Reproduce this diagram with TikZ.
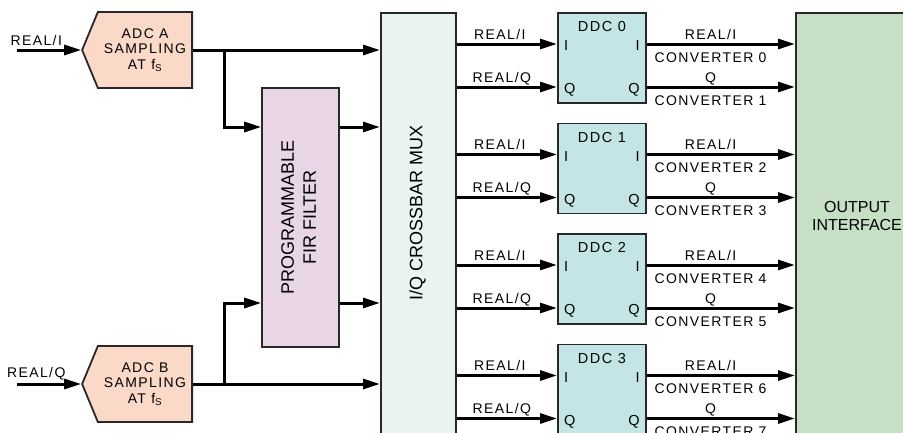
\documentclass[tikz,border=0pt]{standalone}
\usepackage{fontspec}
\setmainfont{Liberation Sans}
\newfontfamily\trackfont[LetterSpace=10]{Liberation Sans}
\usepackage{xcolor}
\usepackage{tikz}
\usetikzlibrary{shapes,shapes.symbols,arrows,arrows.meta,positioning,calc}
\definecolor{boxline}{RGB}{40,40,40}
\definecolor{adcfill}{RGB}{250,217,200}
\definecolor{firfill}{RGB}{232,214,230}
\definecolor{muxfill}{RGB}{233,244,242}
\definecolor{ddcfill}{RGB}{196,229,229}
\definecolor{outfill}{RGB}{198,223,197}
\tikzset{
  block/.style={
    rectangle,
    draw=boxline,
    line width=1.8pt,
    inner sep=0pt,
    align=center
  },
  arrow/.style={
    -{Triangle[length=17pt,width=10pt]},
    line width=3pt
  }
}

\begin{document}
\begin{tikzpicture}[
  x=1pt, y=-1pt,
  adc_block/.style={signal, signal to=west, signal from=nowhere, signal pointer angle=135, draw=boxline, line width=1.8pt, fill=adcfill, minimum width=110pt, minimum height=76pt, inner sep=0pt, align=center, font=\trackfont\fontsize{14}{15.5}\selectfont},
  fir_block/.style={block, fill=firfill, minimum width=77pt, minimum height=259pt, font=\fontsize{18}{22}\selectfont},
  mux_block/.style={block, fill=muxfill, minimum width=75pt, minimum height=470pt},
  ddc_block/.style={block, fill=ddcfill, minimum width=88pt, minimum height=90pt},
  out_block/.style={block, fill=outfill, minimum width=140pt, minimum height=470pt},
  big_text/.style={font=\fontsize{18}{22}\selectfont, align=center},
  out_text/.style={font=\fontsize{16}{18}\selectfont, align=center},
  sig/.style={font=\trackfont\fontsize{14}{14}\selectfont, inner sep=3.5pt, text height=10pt, text depth=0pt},
  pin_text/.style={font=\fontsize{14.5}{14.5}\selectfont, inner sep=7pt}
]
\useasboundingbox (0,0) rectangle (903,432);
\clip (0,0) rectangle (903,432);

% ADC stage
\node[adc_block] (adcA) at (145,50) {ADC A\\SAMPLING\\AT f\textsubscript{S}};
\node[adc_block] (adcB) at (145,384) {ADC B\\SAMPLING\\AT f\textsubscript{S}};
\coordinate (inA) at (17,50);
\coordinate (inB) at (17,384);

% FIR filter and crossbar
\node[fir_block] (fir) at (300.5,217.5) {\rotatebox{90}{\begin{tabular}{@{}c@{}}PROGRAMMABLE\\FIR FILTER\end{tabular}}};
\node[mux_block, anchor=north west] (mux) at (380,12) {};
\node[big_text, rotate=90] (muxlabel) at (417.5,213) {I/Q CROSSBAR MUX};

% Output interface
\node[out_block, anchor=north west] (out) at (795,12) {};
\node[out_text] (outlabel) at (857,216) {OUTPUT\\INTERFACE};

% Branch points
\coordinate (jA) at (224,50);
\coordinate (jB) at (224,384);
\coordinate (rowA) at (0,127);
\coordinate (rowB) at (0,303);

% Inputs to ADCs
\draw[arrow] (inA) -- node[sig, above, pos=0.3] {REAL/I} (adcA.west);
\draw[arrow] (inB) -- node[sig, above, pos=0.3, yshift=2pt] {REAL/Q} (adcB.west);

% ADCs to crossbar and FIR
\draw[arrow] (adcA.east) -- (adcA.east -| mux.west);
\draw[arrow] (adcB.east) -- (adcB.east -| mux.west);
\draw[arrow] (jA) |- (fir.west |- rowA);
\draw[arrow] (jB) |- (fir.west |- rowB);

% FIR to crossbar
\draw[arrow] (fir.east |- rowA) -- (mux.west |- rowA);
\draw[arrow] (fir.east |- rowB) -- (mux.west |- rowB);

% DDC channels
\foreach \i/\cA/\cB in {0/0/1, 1/2/3, 2/4/5, 3/6/7} {
  \pgfmathsetmacro{\ddctop}{12+110.5*\i}
  \pgfmathsetmacro{\yI}{\ddctop+32}
  \pgfmathsetmacro{\yQ}{\ddctop+75}
  \coordinate (rI\i) at (0,\yI);
  \coordinate (rQ\i) at (0,\yQ);
  \node[ddc_block, anchor=north west] (ddc\i) at (557,\ddctop) {};
  \node[font=\trackfont\fontsize{14.5}{14.5}\selectfont, anchor=base] (title\i) at ($(ddc\i.north)+(0,19.7)$) {DDC \i};
  \node[pin_text, anchor=west] at ($(ddc\i.west |- rI\i)+(0,2)$) {I};
  \node[pin_text, anchor=east] at ($(ddc\i.east |- rI\i)+(0,2)$) {I};
  \node[pin_text, anchor=west] at ($(ddc\i.west |- rQ\i)+(0,3)$) {Q};
  \node[pin_text, anchor=east] at ($(ddc\i.east |- rQ\i)+(0,3)$) {Q};
  \draw[arrow] (mux.east |- rI\i) -- node[sig, above, pos=0.43] {REAL/I} (ddc\i.west |- rI\i);
  \draw[arrow] (mux.east |- rQ\i) -- node[sig, above, pos=0.45] {REAL/Q} (ddc\i.west |- rQ\i);
  \draw[arrow] (ddc\i.east |- rI\i) -- node[sig, above, pos=0.43] {REAL/I} node[sig, below, pos=0.43, yshift=-3pt] {CONVERTER \cA} (out.west |- rI\i);
  \draw[arrow] (ddc\i.east |- rQ\i) -- node[sig, above, pos=0.43] {Q} node[sig, below, pos=0.43, yshift=-3pt] {CONVERTER \cB} (out.west |- rQ\i);
}

\end{tikzpicture}
\end{document}
